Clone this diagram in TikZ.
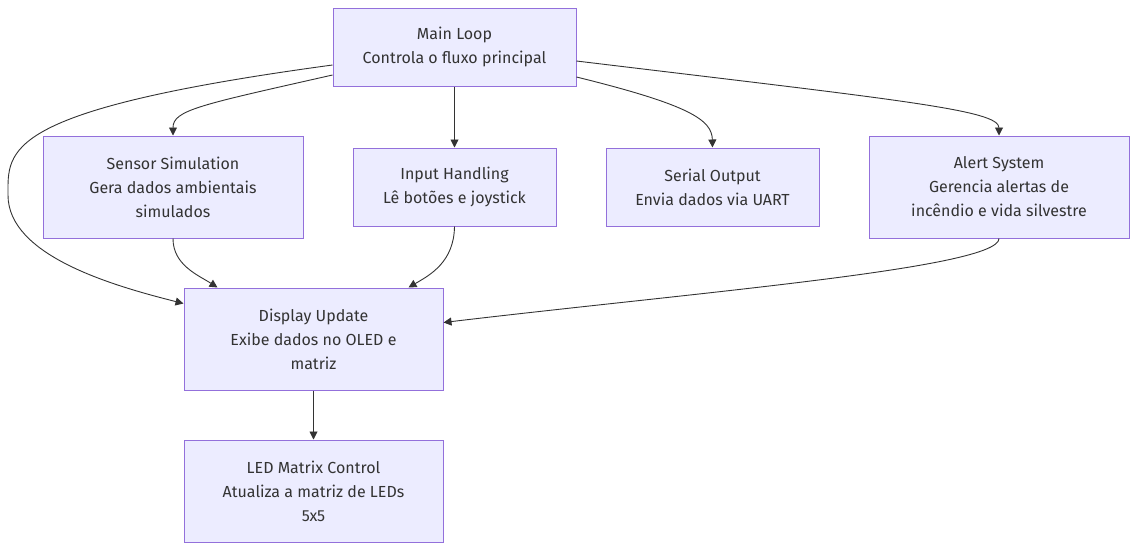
\documentclass[tikz,border=0pt]{standalone}
\usepackage{fontspec}
\setmainfont{Fira Sans}
\usetikzlibrary{arrows.meta, positioning}
\definecolor{boxfill}{HTML}{ECECFF}
\definecolor{boxline}{HTML}{9370DB}
\definecolor{edgeline}{HTML}{333333}
\begin{document}
\begin{tikzpicture}[
    x=1pt, y=-1pt,
    % Styles
    block/.style={ draw=boxline, fill=boxfill, line width=1pt, align=center, text=edgeline, font=\fontsize{16}{24}\selectfont, inner sep=0pt },
    flow/.style={ draw=edgeline, line width=0.9pt, -{Triangle[length=8pt,width=8pt]} },
  ]
  \useasboundingbox (0,0) rectangle (1137,550);

  % 1) Top level
  \node[block, minimum width=243, minimum height=78] (main) at (454.5,47)
  {Main Loop\\Controla o fluxo principal};

  % 2) Modules
  \node[block, minimum width=260, minimum height=102] (sensor) at (173,187)
  {Sensor Simulation\\Gera dados ambientais\\simulados};
  \node[block, minimum width=203, minimum height=78] (input) at (454.5,187)
  {Input Handling\\Lê botões e joystick};
  \node[block, minimum width=213, minimum height=78] (serial) at (712.5,187)
  {Serial Output\\Envia dados via UART};
  \node[block, minimum width=260, minimum height=102] (alert) at (999,187)
  {Alert System\\Gerencia alertas de\\incêndio e vida silvestre};

  % 3) Output chain
  \node[block, minimum width=259, minimum height=102] (display) at (313.5,339)
  {Display Update\\Exibe dados no OLED e\\matriz};
  \node[block, minimum width=259, minimum height=102] (ledm) at (313.5,491)
  {LED Matrix Control\\Atualiza a matriz de LEDs\\5x5};

  % 4) Edges from the main loop
  \draw[flow] ([yshift=-28]main.west) .. controls (200,105) and (173,110) .. (sensor.north);
  \draw[flow] (main.south) -- (input.north);
  \draw[flow] ([yshift=-30]main.east) .. controls (690,105) and (712,120) .. (serial.north);
  \draw[flow] ([yshift=-14]main.east) .. controls (900,100) and (999,110) .. (alert.north);
  \draw[flow] ([yshift=-18]main.west) .. controls (0,110) and (8,150) .. (8,195)
  .. controls (8,255) and (110,285) .. ([yshift=-16]display.north west);

  % 5) Edges into the display
  \draw[flow] (sensor.south) .. controls (173,265) and (198,275) .. ([xshift=34]display.north west);
  \draw[flow] (input.south) .. controls (454,262) and (430,275) .. ([xshift=-35]display.north east);
  \draw[flow] (alert.south) .. controls (999,268) and (700,292) .. ([yshift=-35]display.north east);
  \draw[flow] (display.south) -- (ledm.north);
\end{tikzpicture}
\end{document}
